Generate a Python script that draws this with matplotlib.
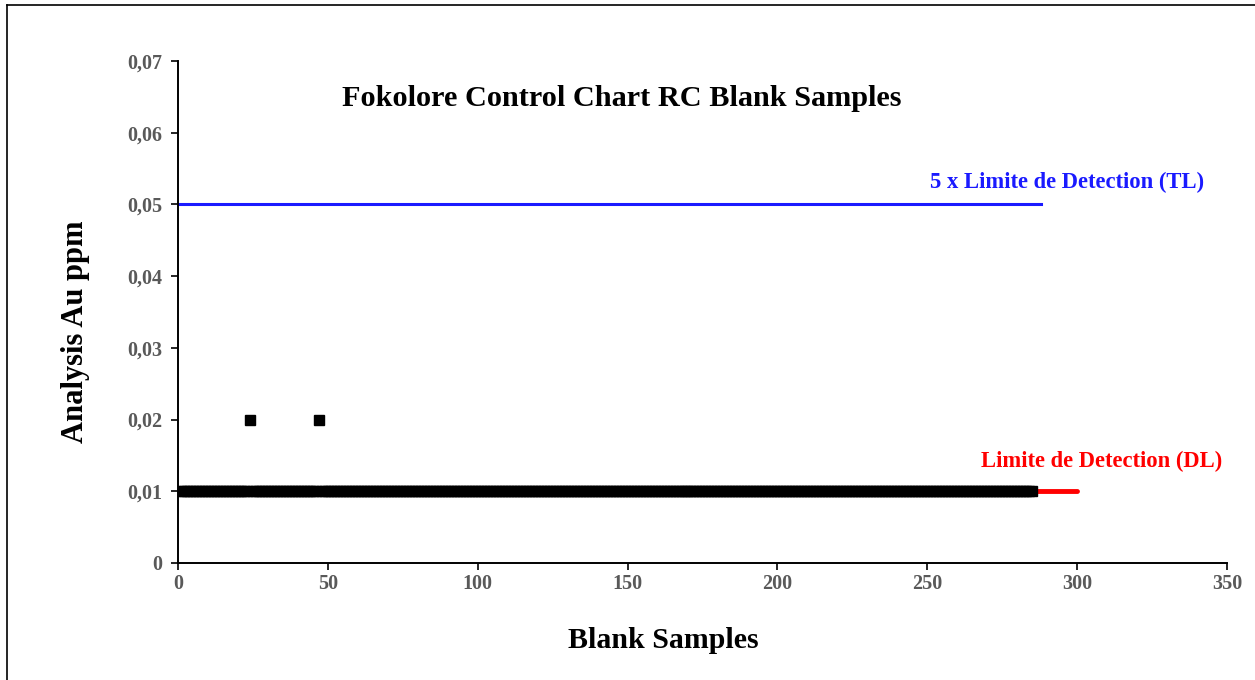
import matplotlib
matplotlib.use("Agg")
import matplotlib.pyplot as plt
from matplotlib.lines import Line2D

# Blank sample assays (Au ppm); all at detection limit except two
sample_ids = list(range(1, 286))
au_ppm = [0.01] * 23 + [0.02] + [0.01] * 22 + [0.02] + [0.01] * 238

detection_limit = 0.01        # DL
tolerance_limit = 0.05        # 5 x DL
dl_range = [0, 300]
tl_range = [0, 288]

x_ticks = [0, 50, 100, 150, 200, 250, 300, 350]
y_ticks = [0, 0.01, 0.02, 0.03, 0.04, 0.05, 0.06, 0.07]
y_tick_labels = ["0", "0,01", "0,02", "0,03", "0,04", "0,05", "0,06", "0,07"]

plt.rcParams["font.family"] = ["Liberation Serif", "DejaVu Serif"]

fig = plt.figure(figsize=(12.55, 6.8), dpi=100)
ax = fig.add_axes([0.1418, 0.1721, 0.8359, 0.7382])

# outer frame (top and left edges)
fig.add_artist(Line2D([7 / 1255, 7 / 1255], [0, 1 - 5 / 680], color="black",
                      lw=1.2, transform=fig.transFigure))
fig.add_artist(Line2D([7 / 1255, 1], [1 - 5 / 680, 1 - 5 / 680], color="black",
                      lw=1.2, transform=fig.transFigure))

ax.plot(dl_range, [detection_limit] * 2, color="red", lw=3.5,
        solid_capstyle="round", zorder=2)
ax.plot(tl_range, [tolerance_limit] * 2, color="#1a1aff", lw=2.2, zorder=2)
ax.plot(sample_ids, au_ppm, linestyle="none", marker="s", markersize=7.2,
        color="black", zorder=3)

ax.text(296.7, 0.0531, "5 x Limite de Detection (TL)", color="#1a1aff",
        fontsize=16.3, fontweight="bold", ha="center", va="center")
ax.text(308.3, 0.0142, "Limite de Detection (DL)", color="red",
        fontsize=16.3, fontweight="bold", ha="center", va="center")

ax.set_xlim(0, 350)
ax.set_ylim(0, 0.07)
ax.set_xticks(x_ticks)
ax.set_xticklabels([str(t) for t in x_ticks])
ax.set_yticks(y_ticks)
ax.set_yticklabels(y_tick_labels)
ax.tick_params(axis="both", direction="out", length=5, width=1.2,
               labelsize=14.5, labelcolor="#595959")
ax.tick_params(axis="y", pad=6)
ax.tick_params(axis="x", pad=3)
for lbl in ax.get_xticklabels() + ax.get_yticklabels():
    lbl.set_fontweight("bold")

for side in ("top", "right"):
    ax.spines[side].set_visible(False)
for side in ("left", "bottom"):
    ax.spines[side].set_linewidth(1.4)

fig.text(622 / 1255, 1 - 98 / 680, "Fokolore Control Chart RC Blank Samples",
         fontsize=21.8, fontweight="bold", ha="center", va="center")
fig.text(663 / 1255, 1 - 640 / 680, "Blank Samples", fontsize=21.5,
         fontweight="bold", ha="center", va="center")
fig.text(75 / 1255, 1 - 332 / 680, "Analysis Au ppm", fontsize=22,
         fontweight="bold", ha="center", va="center", rotation=90)

fig.savefig("out.png", dpi=100, facecolor="white")
